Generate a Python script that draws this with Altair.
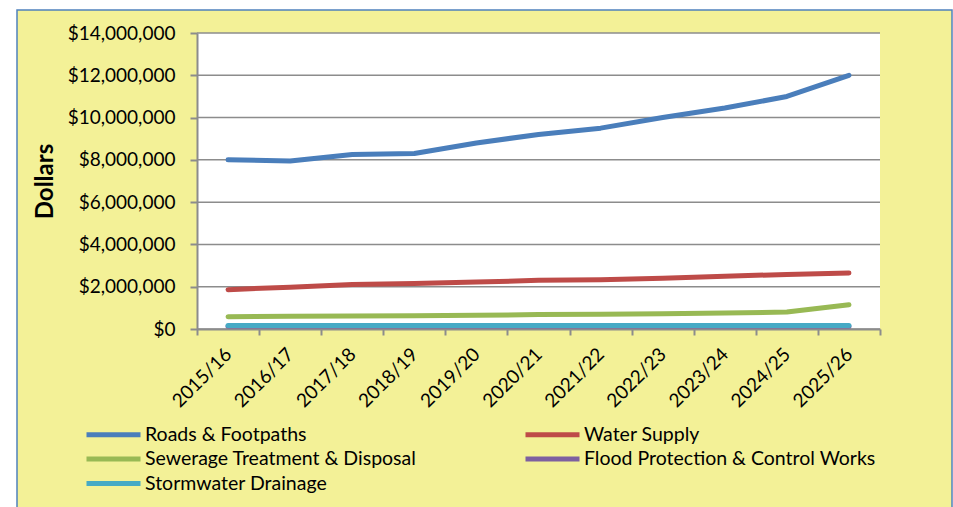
import altair as alt
import pandas as pd

years = ["2015/16", "2016/17", "2017/18", "2018/19", "2019/20", "2020/21",
         "2021/22", "2022/23", "2023/24", "2024/25", "2025/26"]
series_names = ["Roads & Footpaths", "Water Supply", "Sewerage Treatment & Disposal",
                "Flood Protection & Control Works", "Stormwater Drainage"]
roads = [8000000, 7950000, 8250000, 8300000, 8800000, 9200000, 9500000, 10000000, 10450000, 11000000, 12000000]
water = [1860000, 1980000, 2100000, 2150000, 2220000, 2300000, 2330000, 2400000, 2500000, 2580000, 2650000]
sewer = [580000, 600000, 620000, 630000, 650000, 680000, 700000, 720000, 760000, 800000, 1150000]
flood = [120000, 120000, 120000, 120000, 120000, 120000, 120000, 120000, 120000, 120000, 120000]
storm = [170000, 170000, 170000, 170000, 170000, 170000, 170000, 170000, 170000, 170000, 170000]
colors = ["#4A7EBB", "#BE4B48", "#98B954", "#7D60A0", "#46AAC5"]
y_ticks = [0, 2000000, 4000000, 6000000, 8000000, 10000000, 12000000, 14000000]

all_values = [roads, water, sewer, flood, storm]
rows = []
for si, (name, vals) in enumerate(zip(series_names, all_values)):
    for yr, v in zip(years, vals):
        rows.append({"year": yr, "series": name, "value": v, "order": si})
df = pd.DataFrame(rows)
grid_df = pd.DataFrame({"v": y_ticks})

W, H = 683, 296
FONT = "Lato"
yscale = alt.Scale(domain=[0, 14000000], nice=False, zero=True)

frame = alt.Chart(pd.DataFrame({"a": [0]})).mark_rect(
    fill="#F3F197", stroke="#4F81BD", strokeWidth=1.5
).encode(x=alt.value(-180), x2=alt.value(755), y=alt.value(-23), y2=alt.value(520))

plotbg = alt.Chart(pd.DataFrame({"a": [0]})).mark_rect(fill="white").encode(
    x=alt.value(0), x2=alt.value(W), y=alt.value(0), y2=alt.value(H))

grid = alt.Chart(grid_df).mark_rule(color="#8C8C8C", strokeWidth=1.5).encode(
    y=alt.Y("v:Q", scale=yscale),
    x=alt.value(0), x2=alt.value(W))

lines = alt.Chart(df).mark_line(strokeWidth=5, strokeCap="round", strokeJoin="round").encode(
    x=alt.X("year:N", sort=years, bandPosition=0.5,
            scale=alt.Scale(type="band", paddingInner=0, paddingOuter=0),
            axis=alt.Axis(title=None, labelAngle=-45, labelAlign="right", labelBaseline="middle",
                          tickBand="extent", tickSize=6, tickWidth=2, tickColor="#8C8C8C",
                          domainColor="#8C8C8C", domainWidth=2, labelFontSize=19,
                          labelFont=FONT, labelColor="black", labelPadding=16, grid=False,
                          labelOverlap=False, zindex=1)),
    y=alt.Y("value:Q", scale=yscale,
            axis=alt.Axis(title="Dollars", values=y_ticks, format="$,.0f", grid=False,
                          tickSize=7, tickWidth=2, tickColor="#8C8C8C", domainColor="#8C8C8C",
                          domainWidth=2, labelFontSize=19, labelFont=FONT, labelColor="black",
                          labelPadding=15, titleFont=FONT, titleFontSize=24, titleFontWeight="bold",
                          titleColor="black", titlePadding=10, zindex=1)),
    color=alt.Color("series:N", sort=series_names,
                    scale=alt.Scale(domain=series_names, range=colors),
                    legend=alt.Legend(title=None, orient="none", legendX=-95, legendY=390,
                                      columns=2, symbolType="M-3,0H3", symbolSize=324,
                                      symbolStrokeWidth=5, labelFontSize=19.5, labelFont=FONT,
                                      labelColor="black", columnPadding=98, rowPadding=2.5,
                                      labelOffset=20, labelLimit=0, direction="horizontal",
                                      zindex=1)),
    order=alt.Order("order:Q"),
    detail="series:N",
)

chart = alt.layer(frame, plotbg, grid, lines).properties(
    width=W, height=H, background="white",
    padding={"left": 197, "top": 33, "right": 73, "bottom": 178},
    autosize=alt.AutoSizeParams(type="none"),
).configure_view(stroke=None)

chart.save("out.html", embed_options={"renderer": "svg", "actions": False})
